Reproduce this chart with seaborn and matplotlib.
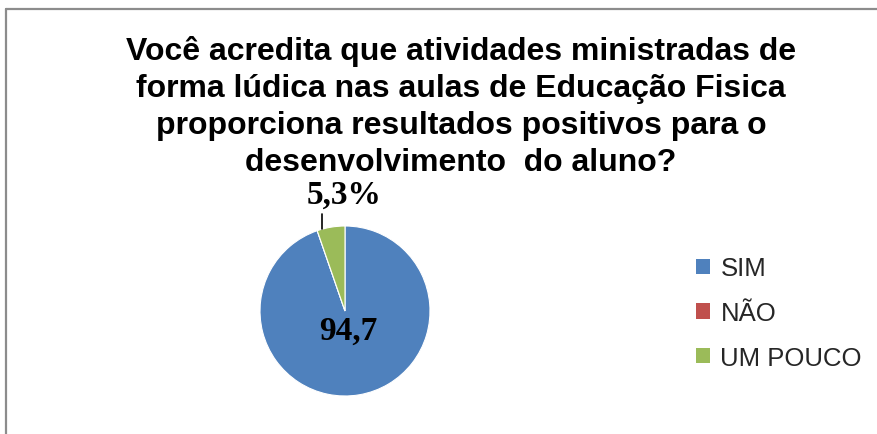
import matplotlib
matplotlib.use("Agg")
import matplotlib.pyplot as plt
import seaborn as sns
import numpy as np
from matplotlib.patches import Patch
from matplotlib.lines import Line2D

categories = ["SIM", "NÃO", "UM POUCO"]
values = [94.7, 0.0, 5.3]
value_labels = ["94,7", "", "5,3%"]
colors = ["#4F81BD", "#C0504D", "#9BBB59"]
title = ("Você acredita que atividades ministradas de\n"
         "forma lúdica nas aulas de Educação Fisica\n"
         "proporciona resultados positivos para o\n"
         "desenvolvimento  do aluno?")

sns.set_theme(style="white")
plt.rcParams['font.family'] = ['Liberation Sans', 'DejaVu Sans']

W, H = 878, 435
fig = plt.figure(figsize=(W / 100, H / 100), dpi=100)
fig.patch.set_facecolor("white")

# border (chart area frame)
fig.add_artist(Line2D([6 / W, 6 / W], [0, 1 - 10 / H], color="#8c8c8c", lw=1.6))
fig.add_artist(Line2D([6 / W, 1], [1 - 10 / H, 1 - 10 / H], color="#8c8c8c", lw=1.6))

fig.text(461 / W, 1 - 107 / H, title, ha="center", va="center", fontsize=23,
         fontweight="bold", linespacing=1.30, color="black")

cx, cy, r = 345, 312, 85
ax = fig.add_axes([(cx - r) / W, (H - cy - r) / H, 2 * r / W, 2 * r / H])
wedges, _ = ax.pie(values, colors=colors, startangle=90, counterclock=False,
                   radius=1.0, wedgeprops=dict(linewidth=0.8, edgecolor="white"))
ax.set_xlim(-1, 1)
ax.set_ylim(-1, 1)
ax.set_aspect("equal")
ax.axis("off")

serif = ['Liberation Serif', 'DejaVu Serif']
# inside label for SIM
w = wedges[0]
mid = np.deg2rad((w.theta1 + w.theta2) / 2)
ax.text(0.23 * np.cos(mid) + 0.0, 0.23 * np.sin(mid), value_labels[0], ha="center",
        va="center", fontsize=24, fontweight="bold", family=serif, color="black")

# outside label for UM POUCO with leader line
w = wedges[2]
ang = np.deg2rad(106)
ex, ey = np.cos(ang), np.sin(ang)
ax.plot([ex, ex], [ey, 1.14], color="black", lw=1.2, clip_on=False)
ax.text(-0.01, 1.37, value_labels[2], ha="center", va="center", fontsize=24,
        fontweight="bold", family=serif, color="black", clip_on=False)

handles = [Patch(facecolor=c, edgecolor="none") for c in colors]
fig.legend(handles, categories, loc="center left", bbox_to_anchor=(696 / W, 1 - 314 / H),
           frameon=False, fontsize=18.5, handlelength=0.55, handleheight=0.55,
           handletextpad=0.4, labelspacing=0.8, borderpad=0, borderaxespad=0)

fig.savefig("out.png", dpi=100)
